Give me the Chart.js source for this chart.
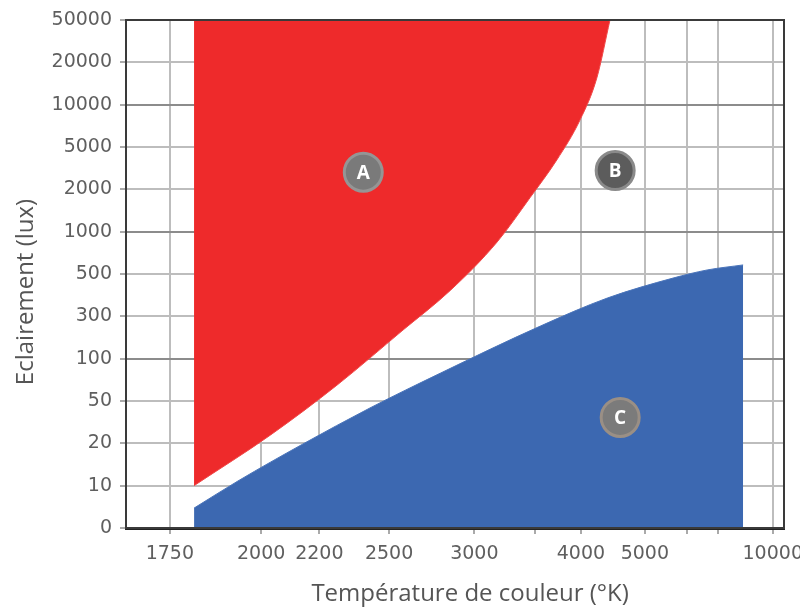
<!DOCTYPE html>
<html>
<head>
<meta charset="utf-8">
<script src="https://cdn.jsdelivr.net/npm/chart.js@4"></script>
<style>
  html, body { margin: 0; padding: 0; background: #fff; }
  #wrap { width: 800px; height: 614px; }
</style>
</head>
<body>
<div id="wrap"><canvas id="kruithofChart"></canvas></div>
<script>
// --- DATA ---
// Y axis rows (evenly spaced on the original figure)
const luxLabels = [0, 10, 20, 50, 100, 300, 500, 1000, 2000, 5000, 10000, 20000, 50000];
// X axis ticks (reciprocal temperature scale)
const tempTicks = [1750, 2000, 2200, 2500, 3000, 3500, 4000, 5000, 6000, 7000, 10000];
const tempTickLabels = ['1750', '2000', '2200', '2500', '3000', '', '4000', '5000', '', '', '10000'];

// Zone A (too warm): lower boundary, filled up to the top
const zoneAKelvin = [1810, 2030, 2270, 2570, 2840, 3170, 3450, 3720, 3990, 4210, 4400];
const zoneALux    = [10,   24,   65,   210,  410,  845,  1740, 3780, 7800, 15500, 50000];

// Zone C (too cold / dim): upper boundary, filled down to 0
const zoneCKelvin = [1810, 1930, 2140, 2410, 2780, 3550, 4360, 5620, 6610, 8120];
const zoneCLux    = [4.7,  10.8, 19.8, 43,   79,   233,  374,  476,  534,  580];

// Zone markers
const zoneNames  = ['A', 'B', 'C'];
const zoneKelvin = [2380, 4480, 4560];
const zoneLux    = [2900, 3000, 35];

// --- SCALE HELPERS ---
const toMired = k => 1e6 / k;

// lux -> row index on the evenly spaced y axis (log between labelled rows)
function luxToRow(lux) {
  for (let i = 0; i < luxLabels.length - 1; i++) {
    const lo = luxLabels[i], hi = luxLabels[i + 1];
    if (lux <= hi) {
      if (i === 0) return lux / hi;
      return i + Math.log(lux / lo) / Math.log(hi / lo);
    }
  }
  return luxLabels.length - 1;
}

const toPoints = (ks, lx) => ks.map((k, i) => ({ x: toMired(k), y: luxToRow(lx[i]) }));

// keep the plot box fixed, labels may run into the margins
const noPadding = () => ({ left: 0, top: 0, right: 0, bottom: 0 });

// frame + letters in the zone circles
const framePlugin = {
  id: 'frame',
  afterDatasetsDraw(chart) {
    const { ctx, chartArea: a } = chart;
    ctx.save();
    ctx.strokeStyle = '#3a3a3a';
    ctx.lineWidth = 2;
    ctx.strokeRect(a.left, a.top, a.right - a.left, a.bottom - a.top);

    const meta = chart.getDatasetMeta(2);
    ctx.fillStyle = '#ffffff';
    ctx.font = 'bold 19px "Open Sans"';
    ctx.textAlign = 'center';
    ctx.textBaseline = 'middle';
    meta.data.forEach((pt, i) => ctx.fillText(zoneNames[i], pt.x, pt.y + 1));
    ctx.restore();
  }
};

const tickFont = { family: '"DejaVu Sans", sans-serif', size: 19 };

new Chart(document.getElementById('kruithofChart'), {
  type: 'line',
  data: {
    datasets: [
      {
        label: 'A',
        data: toPoints(zoneAKelvin, zoneALux),
        backgroundColor: '#ee2a2b',
        borderColor: '#f04a4a',
        borderWidth: 1,
        fill: 'end',
        pointRadius: 0,
        cubicInterpolationMode: 'monotone',
        order: 2
      },
      {
        label: 'C',
        data: toPoints(zoneCKelvin, zoneCLux),
        backgroundColor: '#3c68b1',
        borderColor: '#4a74ba',
        borderWidth: 1,
        fill: 'start',
        pointRadius: 0,
        cubicInterpolationMode: 'monotone',
        order: 1
      },
      {
        type: 'scatter',
        label: 'zones',
        data: toPoints(zoneKelvin, zoneLux),
        pointRadius: 19,
        pointBackgroundColor: ['#7a7a7a', '#5c5c5c', '#7b7b7b'],
        pointBorderColor: ['#959595', '#8a8a8a', '#9a8f85'],
        pointBorderWidth: 3,
        showLine: false,
        order: 0
      }
    ]
  },
  options: {
    responsive: true,
    maintainAspectRatio: false,
    animation: false,
    layout: { autoPadding: false, padding: { top: 20, right: 16, left: 0, bottom: 0 } },
    plugins: {
      legend: { display: false },
      tooltip: { enabled: false }
    },
    scales: {
      x: {
        type: 'linear',
        reverse: true,
        min: 91.2,
        max: 605.7,
        afterBuildTicks: scale => { scale.ticks = tempTicks.map(t => ({ value: toMired(t) })); },
        afterFit: scale => {
          scale.height = 86;
          scale.paddingLeft = 0;
          scale.paddingRight = 0;
          scale.getPadding = noPadding;
        },
        ticks: {
          autoSkip: false,
          maxRotation: 0,
          color: '#5f5f5f',
          font: tickFont,
          padding: 9,
          callback: (value, index) => tempTickLabels[index]
        },
        grid: { color: '#bdbdbd', lineWidth: 2, tickLength: 6, tickColor: '#aaaaaa' },
        border: { color: '#222', width: 3 },
        title: {
          display: true,
          text: '\u2003 Température de couleur (°K)',
          color: '#555',
          font: { family: '"Open Sans", sans-serif', size: 24 },
          padding: { top: 0, bottom: 5 }
        }
      },
      y: {
        type: 'linear',
        min: 0,
        max: 12,
        afterFit: scale => {
          scale.width = 126;
          scale.getPadding = noPadding;
        },
        ticks: {
          stepSize: 1,
          color: '#5f5f5f',
          font: tickFont,
          padding: 8,
          callback: value => luxLabels[value]
        },
        grid: {
          color: c => [4, 7, 10].includes(c.tick.value) ? '#8c8c8c' : '#bdbdbd',
          lineWidth: 2,
          tickLength: 6,
          tickColor: '#aaaaaa'
        },
        border: { color: '#3a3a3a', width: 2 },
        title: {
          display: true,
          text: 'Eclairement (lux)\u2003\u2002',
          color: '#555',
          font: { family: '"Open Sans", sans-serif', size: 24 },
          padding: { top: 12, bottom: 0 }
        }
      }
    }
  },
  plugins: [framePlugin]
});
</script>
</body>
</html>
